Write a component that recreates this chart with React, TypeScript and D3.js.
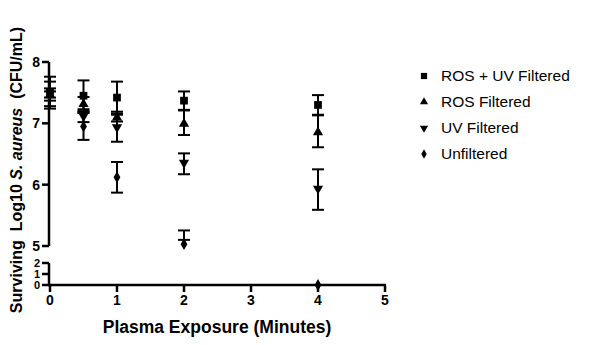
import React from "react";
import * as d3 from "d3";

const times = [0, 0.5, 1, 2, 4];
const seriesNames = ["ROS + UV Filtered", "ROS Filtered", "UV Filtered", "Unfiltered"];
const rosUvMean = [7.5, 7.45, 7.42, 7.37, 7.3];
const rosUvErr = [0.26, 0.25, 0.26, 0.15, 0.16];
const rosMean = [7.48, 7.33, 7.11, 7.01, 6.87];
const rosErr = [0.2, 0.1, 0.08, 0.2, 0.26];
const uvMean = [7.47, 7.1, 6.92, 6.34, 5.92];
const uvErr = [0.1, 0.08, 0.22, 0.17, 0.33];
const unfMean = [7.47, 6.95, 6.12, 5.03, 0];
const unfErr = [0.05, 0.22, 0.25, 0.07, 0];
const xTicks = [0, 1, 2, 3, 4, 5];
const yUpperTicks = [5, 6, 7, 8];
const yLowerTicks = [0, 1, 2];

const FONT = "'Liberation Sans', Arial, sans-serif";

export default function App() {
  const x = d3.scaleLinear().domain([0, 5]).range([50, 385]);
  const yUp = d3.scaleLinear().domain([5, 8]).range([246, 62]);
  const yLo = d3.scaleLinear().domain([0, 2]).range([285, 263]);
  const y = (v: number) => (v >= 5 ? yUp(v) : yLo(v));

  const symTypes = [d3.symbolSquare, d3.symbolTriangle, d3.symbolTriangle, d3.symbolDiamond];
  const symSizes = [60, 45, 45, 40];
  const rot = [0, 0, 180, 0];
  const means = [rosUvMean, rosMean, uvMean, unfMean];
  const errs = [rosUvErr, rosErr, uvErr, unfErr];

  const sym = (i: number) => d3.symbol().type(symTypes[i]).size(symSizes[i])() as string;

  return (
    <svg width={599} height={345} style={{ position: "absolute", left: 0, top: 0 }}>
      <rect width={599} height={345} fill="#fff" />
      {/* error bars */}
      {means.map((m, si) =>
        m.map((v, ti) => {
          const e = errs[si][ti];
          if (e <= 0) return null;
          const cx = x(times[ti]);
          const y1 = y(v + e);
          const y2 = y(v - e);
          return (
            <g key={`e${si}-${ti}`} stroke="#000" strokeWidth={2}>
              <line x1={cx} x2={cx} y1={y1} y2={y2} />
              <line x1={cx - 6} x2={cx + 6} y1={y1} y2={y1} />
              <line x1={cx - 6} x2={cx + 6} y1={y2} y2={y2} />
            </g>
          );
        })
      )}
      {/* axes */}
      <g stroke="#000" strokeWidth={2.5} fill="none">
        <line x1={49} x2={49} y1={yUp(8)} y2={yUp(5)} />
        {yUpperTicks.map((t) => (
          <line key={`yu${t}`} x1={42} x2={49} y1={yUp(t)} y2={yUp(t)} />
        ))}
        <line x1={49} x2={49} y1={yLo(2)} y2={yLo(0)} />
        {yLowerTicks.map((t) => (
          <line key={`yl${t}`} x1={42} x2={49} y1={yLo(t)} y2={yLo(t)} />
        ))}
        <line x1={48} x2={x(5) + 1} y1={yLo(0)} y2={yLo(0)} />
        {xTicks.map((t) => (
          <line key={`xt${t}`} x1={x(t)} x2={x(t)} y1={yLo(0)} y2={yLo(0) + 7} />
        ))}
      </g>
      {/* markers */}
      {means.map((m, si) =>
        m.map((v, ti) => (
          <path
            key={`m${si}-${ti}`}
            d={sym(si)}
            transform={`translate(${x(times[ti])},${y(v) + (si === 1 ? 1 : si === 2 ? -1 : 0)}) rotate(${rot[si]})`}
            fill="#000"
          />
        ))
      )}
      {/* tick labels */}
      <g fontFamily={FONT} fontWeight="bold" fontSize={14} fill="#000">
        {yUpperTicks.map((t) => (
          <text key={`yul${t}`} x={40} y={yUp(t)} dy="0.35em" textAnchor="end">
            {t}
          </text>
        ))}
        {xTicks.map((t) => (
          <text key={`xl${t}`} x={x(t)} y={305} textAnchor="middle">
            {t}
          </text>
        ))}
      </g>
      <g fontFamily={FONT} fontWeight="bold" fontSize={11} fill="#000">
        {yLowerTicks.map((t) => (
          <text key={`yll${t}`} x={40} y={yLo(t)} dy="0.35em" textAnchor="end">
            {t}
          </text>
        ))}
      </g>
      {/* axis titles */}
      <text x={217} y={333} textAnchor="middle" fontFamily={FONT} fontWeight="bold" fontSize={17.5}>
        Plasma Exposure (Minutes)
      </text>
      <text
        transform="translate(22,170) rotate(-90)"
        textAnchor="middle"
        fontFamily={FONT}
        fontWeight="bold"
        fontSize={16}
        style={{ whiteSpace: "pre" }}
      >
        <tspan>{"Surviving  Log10 "}</tspan>
        <tspan fontStyle="italic">S. aureus</tspan>
        <tspan>{"  (CFU/mL)"}</tspan>
      </text>
      {/* legend */}
      {seriesNames.map((n, i) => (
        <g key={`lg${i}`} transform={`translate(424,${76 + i * 26})`}>
          <path d={sym(i)} transform={`scale(0.8) rotate(${rot[i]})`} fill="#000" />
          <text x={17} y={0} dy="0.35em" fontFamily={FONT} fontSize={15.5}>
            {n}
          </text>
        </g>
      ))}
    </svg>
  );
}
